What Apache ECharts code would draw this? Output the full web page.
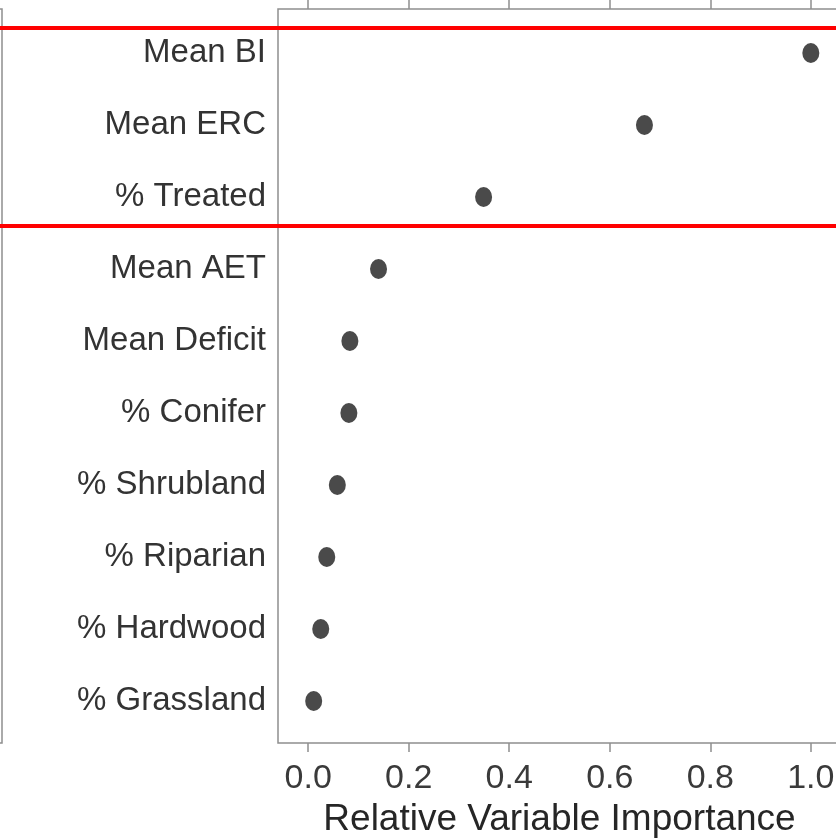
<!DOCTYPE html>
<html>
<head>
<meta charset="utf-8">
<script src="https://cdn.jsdelivr.net/npm/echarts@6/dist/echarts.min.js"></script>
<style>html,body{margin:0;padding:0;background:#fff;}#c{width:836px;height:838px;}</style>
</head>
<body>
<div id="c"></div>
<script>
var categories = ['Mean BI', 'Mean ERC', '% Treated', 'Mean AET', 'Mean Deficit', '% Conifer', '% Shrubland', '% Riparian', '% Hardwood', '% Grassland'];
var importance = [1.0, 0.669, 0.349, 0.140, 0.083, 0.081, 0.058, 0.037, 0.025, 0.011];
var xTicks = [0.0, 0.2, 0.4, 0.6, 0.8, 1.0];
var redLinePositions = [-0.354, 2.403];
var xTitle = 'Relative Variable Importance';

var font = 'Liberation Sans, Arial, Helvetica, sans-serif';
var yIdx = categories.map(function (c, i) { return i; });
var pts = importance.map(function (v, i) { return [v, i]; });

var chart = echarts.init(document.getElementById('c'), null, {renderer: 'canvas'});
var yCommon = {min: -0.611, max: 9.583, inverse: true};
var frame = '#8f8f8f';
chart.setOption({
  animation: false,
  backgroundColor: '#ffffff',
  grid: [
    {left: 278, right: -5, top: 9, height: 734, show: true, borderColor: frame, borderWidth: 1.5, backgroundColor: 'transparent', outerBoundsMode: 'none', containLabel: false},
    {left: -200, width: 202, top: 9, height: 734, show: true, borderColor: frame, borderWidth: 1.5, backgroundColor: 'transparent', outerBoundsMode: 'none', containLabel: false},
    {left: 0, right: 0, top: 9, height: 734, show: false, outerBoundsMode: 'none', containLabel: false}
  ],
  xAxis: [
    {type: 'value', gridIndex: 0, position: 'bottom', min: -0.06, max: 1.06,
      axisLine: {show: false, onZero: false}, splitLine: {show: false},
      axisTick: {show: true, length: 9, customValues: xTicks, lineStyle: {color: frame, width: 1.5}},
      axisLabel: {customValues: xTicks, margin: 19, fontSize: 34, fontFamily: font, color: '#3a3a3a',
        formatter: function (v) { return v.toFixed(1); }},
      name: xTitle, nameLocation: 'middle', nameGap: 58,
      nameTextStyle: {fontSize: 37, fontFamily: font, color: '#262626'}
    },
    {type: 'value', gridIndex: 0, position: 'top', min: -0.06, max: 1.06,
      axisLine: {show: false, onZero: false}, splitLine: {show: false},
      axisTick: {show: true, length: 10, customValues: xTicks, lineStyle: {color: frame, width: 1.5}},
      axisLabel: {show: false}
    },
    {type: 'value', gridIndex: 1, show: false, min: 0, max: 1, axisLine: {onZero: false}},
    {type: 'value', gridIndex: 2, show: false, min: 0, max: 1, axisLine: {onZero: false}}
  ],
  yAxis: [
    Object.assign({type: 'value', gridIndex: 0,
      axisLine: {show: false, onZero: false}, splitLine: {show: false}, axisTick: {show: false},
      axisLabel: {customValues: yIdx, margin: 12, fontSize: 33, fontFamily: font, color: '#333333',
        formatter: function (v) { return categories[Math.round(v)]; }}
    }, yCommon),
    Object.assign({type: 'value', gridIndex: 1, show: false, axisLine: {onZero: false}}, yCommon),
    Object.assign({type: 'value', gridIndex: 2, show: false, axisLine: {onZero: false}}, yCommon)
  ],
  series: [
    {type: 'scatter', xAxisIndex: 0, yAxisIndex: 0, data: pts, symbol: 'circle', symbolSize: [17, 20],
      itemStyle: {color: '#4a4a4a', opacity: 1}, z: 5},
    {type: 'line', xAxisIndex: 3, yAxisIndex: 2, data: [], silent: true,
      markLine: {silent: true, symbol: 'none', label: {show: false},
        lineStyle: {color: '#ff0000', width: 4, type: 'solid'},
        data: redLinePositions.map(function (y) { return {yAxis: y}; })}
    }
  ]
});
</script>
</body>
</html>
